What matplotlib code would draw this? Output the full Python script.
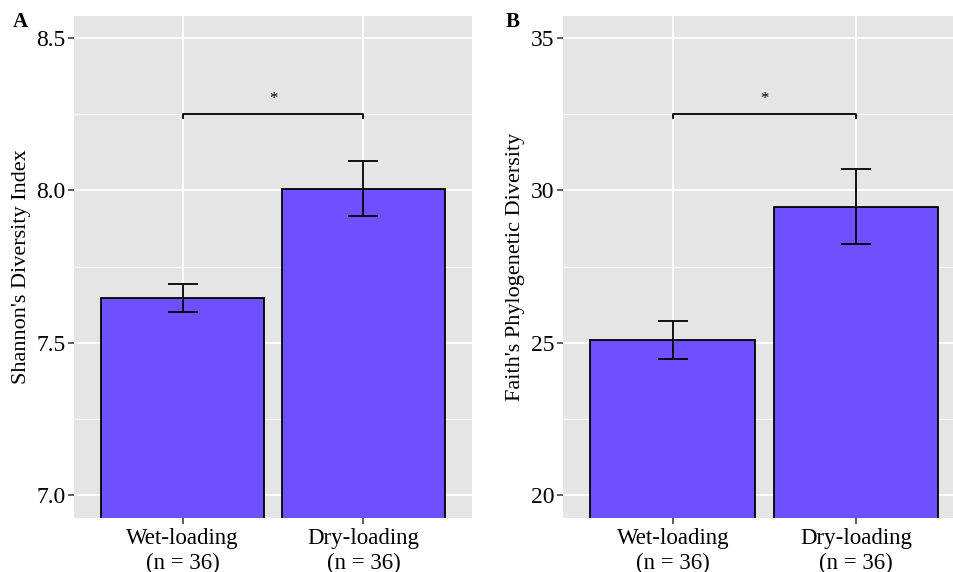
import matplotlib.pyplot as plt
from matplotlib.ticker import MultipleLocator

plt.rcParams['font.family'] = ['Liberation Serif', 'DejaVu Serif']

groups = ['Wet-loading\n(n = 36)', 'Dry-loading\n(n = 36)']

shannon_mean = [7.646, 8.006]
shannon_se = [0.046, 0.089]

faith_mean = [25.09, 29.46]
faith_se = [0.62, 1.23]

bar_colour = '#6E50FF'

fig = plt.figure(figsize=(9.54, 5.72), dpi=100)
axA = fig.add_axes([0.0776, 0.0944, 0.4172, 0.8776])
axB = fig.add_axes([0.590, 0.0944, 0.410, 0.8776])


def panel(ax, means, ses, ylabel, ylim, major, bracket_y, drop, star_y):
    x = [1, 2]
    ax.set_facecolor('#E5E5E5')
    ax.bar(x, means, width=0.9, color=bar_colour, edgecolor='black',
           linewidth=1.3, zorder=3)
    ax.errorbar(x, means, yerr=ses, fmt='none', ecolor='black',
                elinewidth=1.3, capsize=11, capthick=1.3, zorder=4)
    # significance bracket
    ax.plot([1, 1, 2, 2], [bracket_y - drop, bracket_y, bracket_y, bracket_y - drop],
            color='black', linewidth=1.3, zorder=4)
    ax.text(1.5, star_y, '*', ha='center', va='center', fontsize=12, zorder=5)

    ax.set_ylim(*ylim)
    ax.yaxis.set_major_locator(MultipleLocator(major))
    ax.yaxis.set_minor_locator(MultipleLocator(major / 2))
    ax.set_xticks(x)
    ax.set_xticklabels(groups, fontsize=16.5, linespacing=1.25)
    ax.grid(True, which='major', color='white', linewidth=1.3, zorder=0)
    ax.grid(True, which='minor', axis='y', color='white', linewidth=0.65, zorder=0)
    ax.set_axisbelow(True)
    ax.tick_params(axis='both', which='major', length=4, width=1.1,
                   color='#333333', labelsize=17, pad=2)
    ax.tick_params(axis='x', labelsize=16.5, pad=3)
    ax.tick_params(axis='y', which='minor', length=0)
    ax.set_ylabel(ylabel, fontsize=16, labelpad=4)
    for s in ax.spines.values():
        s.set_visible(False)


panel(axA, shannon_mean, shannon_se, "Shannon's Diversity Index",
      (6.925, 8.572), 0.5, 8.25, 0.014, 8.30)
axA.set_xlim(0.4, 2.6)
axA.set_yticklabels([f'{v:.1f}' for v in axA.get_yticks()])

panel(axB, faith_mean, faith_se, "Faith's Phylogenetic Diversity",
      (19.25, 35.72), 5, 32.5, 0.14, 33.0)
axB.set_xlim(0.4, 2.535)

fig.text(0.0136, 0.962, 'A', fontsize=15, fontweight='bold', va='center', ha='left')
fig.text(0.530, 0.962, 'B', fontsize=15, fontweight='bold', va='center', ha='left')

fig.savefig('out.png', dpi=100)
